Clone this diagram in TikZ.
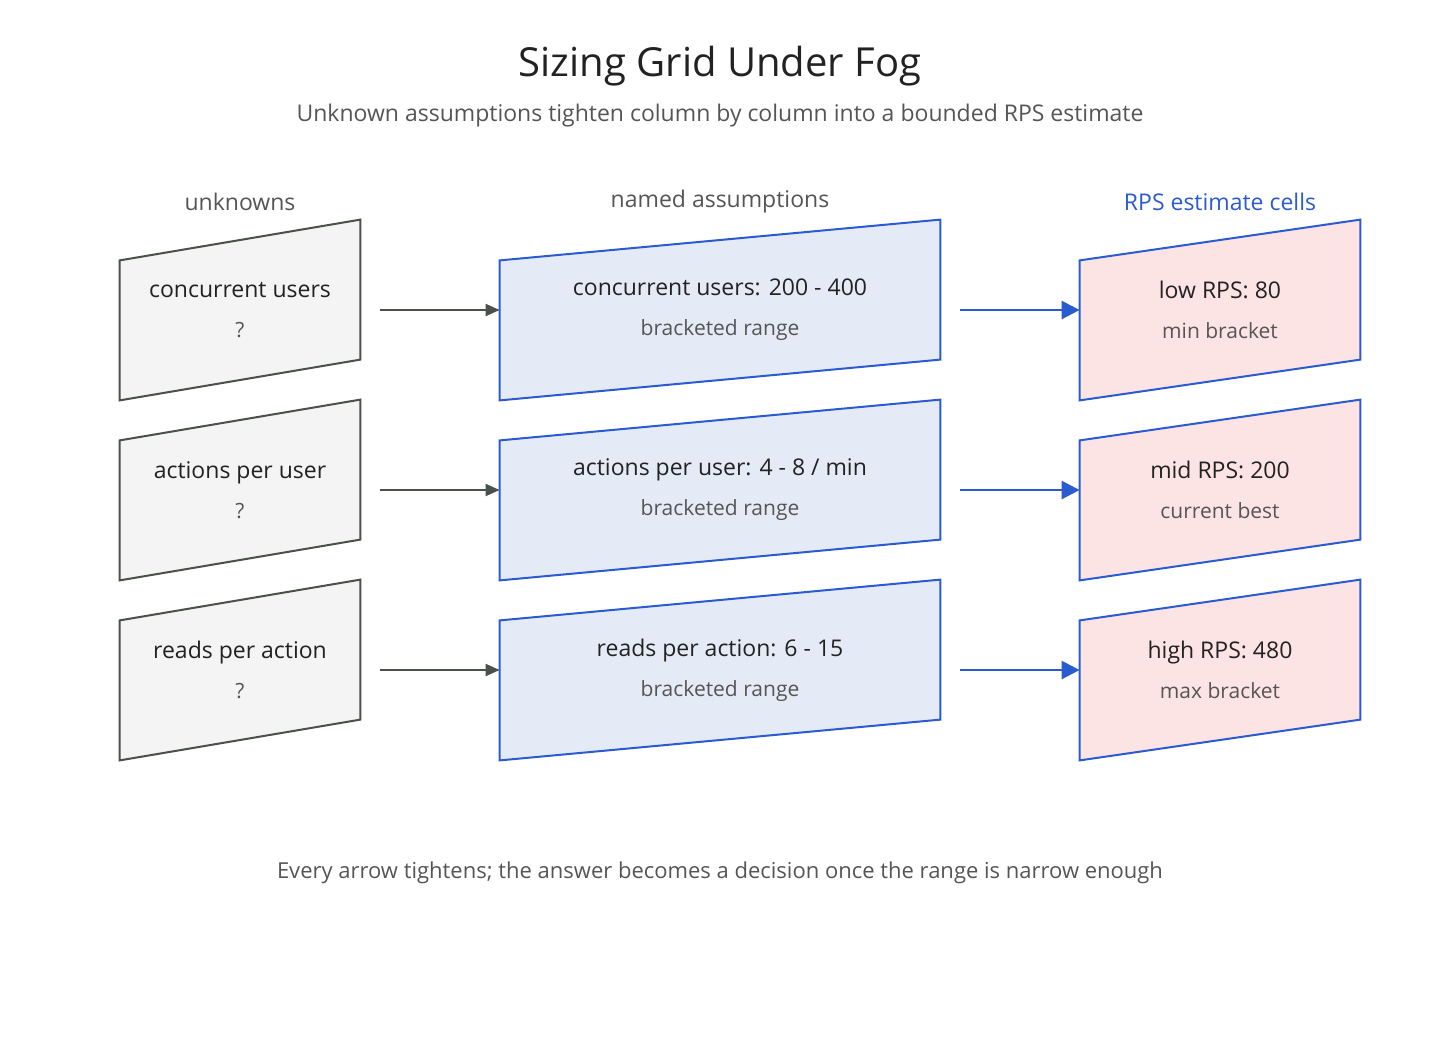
\documentclass[tikz,border=0pt]{standalone}
\usepackage{fontspec}
\setmainfont{Open Sans}
\usetikzlibrary{arrows.meta,positioning}
\definecolor{grayline}{HTML}{4A504A}
\definecolor{grayfill}{HTML}{F3F4F3}
\definecolor{blueline}{HTML}{2B5BD0}
\definecolor{bluefill}{HTML}{E5EBF6}
\definecolor{pinkfill}{HTML}{FDE4E4}
\definecolor{maintext}{HTML}{222222}
\definecolor{subtext}{HTML}{555555}
\tikzset{
  cell/.style={inner sep=0pt, align=center, font=\fontsize{11.5}{14}\selectfont, text=maintext},
  head/.style={font=\fontsize{11.5}{14}\selectfont, text=subtext},
  grayarrow/.style={draw=grayline, line width=1pt, -{Triangle[length=7pt,width=6pt]}},
  bluearrow/.style={draw=blueline, line width=1.3pt, -{Triangle[length=9pt,width=9pt]}},
}
\newcommand{\sub}[1]{\\[6pt]{\color{subtext}\fontsize{10.5}{12}\selectfont #1}}
% slanted cell drawn around a named node
\newcommand{\slantcell}[3]{%
  \draw[draw=#2, fill=#3, line width=1pt]
    (#1.south west) -- ([yshift=70pt]#1.south west) -- (#1.north east)
    -- ([yshift=-70pt]#1.north east) -- cycle;}
\begin{document}
\begin{tikzpicture}[x=0.5pt,y=-0.5pt]
	\useasboundingbox (0,0) rectangle (1440,1040);
	\node [font=\fontsize{20}{24}\selectfont, text=maintext](title) at (720,66) {Sizing Grid Under Fog};
	\node [head](subtitle) at (720,116) {Unknown assumptions tighten column by column into a bounded RPS estimate};
	\node [head](h_unk) at (240,202) {unknowns};
	\node [head](h_ass) at (720,202) {named assumptions};
	\node [head, text=blueline](h_rps) at (1220,202) {RPS estimate cells};
	% boxes
	\foreach \i/\y in {1/310,2/490,3/670} {
		\node [minimum width=120pt, minimum height=90pt](u\i) at (240,\y) {};
		\node [minimum width=220pt, minimum height=90pt](a\i) at (720,\y) {};
		\node [minimum width=140pt, minimum height=90pt](r\i) at (1220,\y) {};
		\slantcell{u\i}{grayline}{grayfill}
		\slantcell{a\i}{blueline}{bluefill}
		\slantcell{r\i}{blueline}{pinkfill}
	}
	\node [cell] at (u1) {concurrent users\sub{?}};
	\node [cell] at (u2) {actions per user\sub{?}};
	\node [cell] at (u3) {reads per action\sub{?}};
	\node [cell] at (a1) {concurrent users: 200 - 400\sub{bracketed range}};
	\node [cell] at (a2) {actions per user: 4 - 8 / min\sub{bracketed range}};
	\node [cell] at (a3) {reads per action: 6 - 15\sub{bracketed range}};
	\node [cell] at (r1) {low RPS: 80\sub{min bracket}};
	\node [cell] at (r2) {mid RPS: 200\sub{current best}};
	\node [cell] at (r3) {high RPS: 480\sub{max bracket}};
	% arrows
	\foreach \i in {1,2,3} {
		\draw [grayarrow] ([xshift=10pt]u\i.east) -- (a\i.west);
		\draw [bluearrow] ([xshift=10pt]a\i.east) -- (r\i.west);
	}
	\node [head, font=\fontsize{11}{13}\selectfont](footer) at (720,873) {Every arrow tightens; the answer becomes a decision once the range is narrow enough};
\end{tikzpicture}
\end{document}
